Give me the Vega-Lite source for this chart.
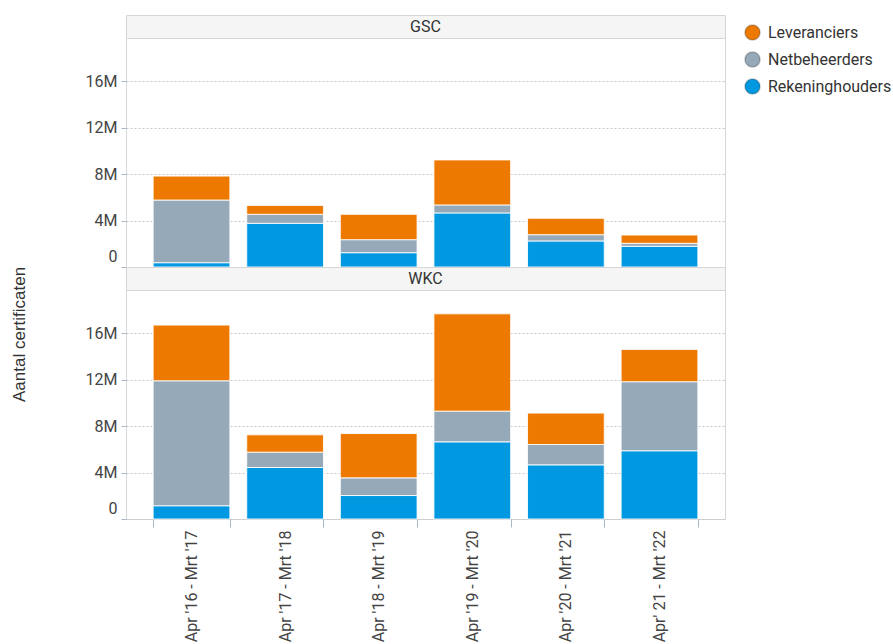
{
  "$schema": "https://vega.github.io/schema/vega-lite/v6.json",
  "padding": {"left": 10, "top": 14, "right": 2, "bottom": 0},
  "bounds": "flush",
  "title": {"text": "Aantal certificaten", "orient": "left", "anchor": "middle", "offset": 56, "dx": -6, "font": "Liberation Sans", "fontSize": 17, "fontWeight": "normal", "color": "#333"},
  "datasets": {
    "d": [
      {"panel": "GSC", "periode": "Apr '16 - Mrt '17", "type": "Rekeninghouders", "value": 370000},
      {"panel": "GSC", "periode": "Apr '16 - Mrt '17", "type": "Netbeheerders", "value": 5390000},
      {"panel": "GSC", "periode": "Apr '16 - Mrt '17", "type": "Leveranciers", "value": 2060000},
      {"panel": "GSC", "periode": "Apr '17 - Mrt '18", "type": "Rekeninghouders", "value": 3760000},
      {"panel": "GSC", "periode": "Apr '17 - Mrt '18", "type": "Netbeheerders", "value": 770000},
      {"panel": "GSC", "periode": "Apr '17 - Mrt '18", "type": "Leveranciers", "value": 770000},
      {"panel": "GSC", "periode": "Apr '18 - Mrt '19", "type": "Rekeninghouders", "value": 1230000},
      {"panel": "GSC", "periode": "Apr '18 - Mrt '19", "type": "Netbeheerders", "value": 1120000},
      {"panel": "GSC", "periode": "Apr '18 - Mrt '19", "type": "Leveranciers", "value": 2180000},
      {"panel": "GSC", "periode": "Apr '19 - Mrt '20", "type": "Rekeninghouders", "value": 4650000},
      {"panel": "GSC", "periode": "Apr '19 - Mrt '20", "type": "Netbeheerders", "value": 690000},
      {"panel": "GSC", "periode": "Apr '19 - Mrt '20", "type": "Leveranciers", "value": 3870000},
      {"panel": "GSC", "periode": "Apr '20 - Mrt '21", "type": "Rekeninghouders", "value": 2240000},
      {"panel": "GSC", "periode": "Apr '20 - Mrt '21", "type": "Netbeheerders", "value": 540000},
      {"panel": "GSC", "periode": "Apr '20 - Mrt '21", "type": "Leveranciers", "value": 1410000},
      {"panel": "GSC", "periode": "Apr' 21 - Mrt '22", "type": "Rekeninghouders", "value": 1780000},
      {"panel": "GSC", "periode": "Apr' 21 - Mrt '22", "type": "Netbeheerders", "value": 260000},
      {"panel": "GSC", "periode": "Apr' 21 - Mrt '22", "type": "Leveranciers", "value": 710000},
      {"panel": "WKC", "periode": "Apr '16 - Mrt '17", "type": "Rekeninghouders", "value": 1140000},
      {"panel": "WKC", "periode": "Apr '16 - Mrt '17", "type": "Netbeheerders", "value": 10750000},
      {"panel": "WKC", "periode": "Apr '16 - Mrt '17", "type": "Leveranciers", "value": 4790000},
      {"panel": "WKC", "periode": "Apr '17 - Mrt '18", "type": "Rekeninghouders", "value": 4430000},
      {"panel": "WKC", "periode": "Apr '17 - Mrt '18", "type": "Netbeheerders", "value": 1320000},
      {"panel": "WKC", "periode": "Apr '17 - Mrt '18", "type": "Leveranciers", "value": 1490000},
      {"panel": "WKC", "periode": "Apr '18 - Mrt '19", "type": "Rekeninghouders", "value": 2020000},
      {"panel": "WKC", "periode": "Apr '18 - Mrt '19", "type": "Netbeheerders", "value": 1520000},
      {"panel": "WKC", "periode": "Apr '18 - Mrt '19", "type": "Leveranciers", "value": 3810000},
      {"panel": "WKC", "periode": "Apr '19 - Mrt '20", "type": "Rekeninghouders", "value": 6640000},
      {"panel": "WKC", "periode": "Apr '19 - Mrt '20", "type": "Netbeheerders", "value": 2640000},
      {"panel": "WKC", "periode": "Apr '19 - Mrt '20", "type": "Leveranciers", "value": 8370000},
      {"panel": "WKC", "periode": "Apr '20 - Mrt '21", "type": "Rekeninghouders", "value": 4660000},
      {"panel": "WKC", "periode": "Apr '20 - Mrt '21", "type": "Netbeheerders", "value": 1750000},
      {"panel": "WKC", "periode": "Apr '20 - Mrt '21", "type": "Leveranciers", "value": 2700000},
      {"panel": "WKC", "periode": "Apr' 21 - Mrt '22", "type": "Rekeninghouders", "value": 5870000},
      {"panel": "WKC", "periode": "Apr' 21 - Mrt '22", "type": "Netbeheerders", "value": 5940000},
      {"panel": "WKC", "periode": "Apr' 21 - Mrt '22", "type": "Leveranciers", "value": 2780000}
    ]
  },
  "spacing": 0,
  "resolve": {"scale": {"color": "shared"}, "legend": {"color": "shared"}},
  "vconcat": [
    {
      "data": {"values": [{"panel": "GSC"}]},
      "width": 599, "height": 23,
      "view": {"fill": "#f5f5f5", "stroke": "#d6d6d6"},
      "mark": {"type": "text", "font": "Roboto", "fontSize": 16, "color": "#333"},
      "encoding": {"text": {"field": "panel", "type": "nominal"}}
    },
    {
      "data": {"name": "d"},
      "transform": [{"filter": "datum.panel === 'GSC'"}],
      "width": 599, "height": 229,
      "mark": {"type": "bar", "stroke": "white", "strokeWidth": 1, "strokeOpacity": 0.85},
      "encoding": {
        "x": {"field": "periode", "type": "nominal", "sort": null, "scale": {"paddingInner": 0.18, "paddingOuter": 0.29}, "axis": null},
        "y": {"field": "value", "type": "quantitative", "stack": "zero", "scale": {"domain": [0, 19700000], "nice": false},
              "axis": {"values": [0, 4000000, 8000000, 12000000, 16000000], "labelExpr": "datum.value === 0 ? '0' : format(datum.value, '~s')", "title": null,
                       "labelOffset": {"condition": {"test": "datum.value === 0", "value": -11}, "value": 0},
                       "domain": false, "tickSize": 5, "labelPadding": 4}},
        "color": {"field": "type", "type": "nominal",
                  "scale": {"domain": ["Leveranciers", "Netbeheerders", "Rekeninghouders"], "range": ["#ee7900", "#96a9b9", "#0099e1"]},
                  "legend": {"title": null}},
        "order": {"field": "type", "sort": "descending"}
      }
    },
    {
      "data": {"values": [{"panel": "WKC"}]},
      "width": 599, "height": 23,
      "view": {"fill": "#f5f5f5", "stroke": "#d6d6d6"},
      "mark": {"type": "text", "font": "Roboto", "fontSize": 16, "color": "#333"},
      "encoding": {"text": {"field": "panel", "type": "nominal"}}
    },
    {
      "data": {"name": "d"},
      "transform": [{"filter": "datum.panel === 'WKC'"}],
      "width": 599, "height": 229,
      "mark": {"type": "bar", "stroke": "white", "strokeWidth": 1, "strokeOpacity": 0.85},
      "encoding": {
        "x": {"field": "periode", "type": "nominal", "sort": null, "scale": {"paddingInner": 0.18, "paddingOuter": 0.29},
              "axis": {"title": null, "labelAngle": -90, "tickBand": "extent", "tickSize": 8, "labelPadding": 3, "domain": false}},
        "y": {"field": "value", "type": "quantitative", "stack": "zero", "scale": {"domain": [0, 19700000], "nice": false},
              "axis": {"values": [0, 4000000, 8000000, 12000000, 16000000], "labelExpr": "datum.value === 0 ? '0' : format(datum.value, '~s')", "title": null,
                       "labelOffset": {"condition": {"test": "datum.value === 0", "value": -11}, "value": 0},
                       "domain": false, "tickSize": 5, "labelPadding": 4}},
        "color": {"field": "type", "type": "nominal",
                  "scale": {"domain": ["Leveranciers", "Netbeheerders", "Rekeninghouders"], "range": ["#ee7900", "#96a9b9", "#0099e1"]},
                  "legend": {"title": null}},
        "order": {"field": "type", "sort": "descending"}
      }
    }
  ],
  "config": {
    "view": {"stroke": "#d6d6d6"},
    "axis": {"labelFont": "Roboto", "labelFontSize": 16, "labelColor": "#444", "tickColor": "#a9b6c3", "domainColor": "#c8c8c8", "gridColor": "#c8c8c8", "gridDash": [2, 2]},
    "legend": {"orient": "right", "symbolType": "circle", "symbolSize": 230, "symbolStrokeColor": "rgba(0,0,0,0.22)", "symbolStrokeWidth": 1.5, "symbolOpacity": 1, "labelFont": "Roboto", "labelFontSize": 16, "labelColor": "#333", "rowPadding": 4, "offset": 9, "padding": 9, "labelOffset": 7}
  }
}
